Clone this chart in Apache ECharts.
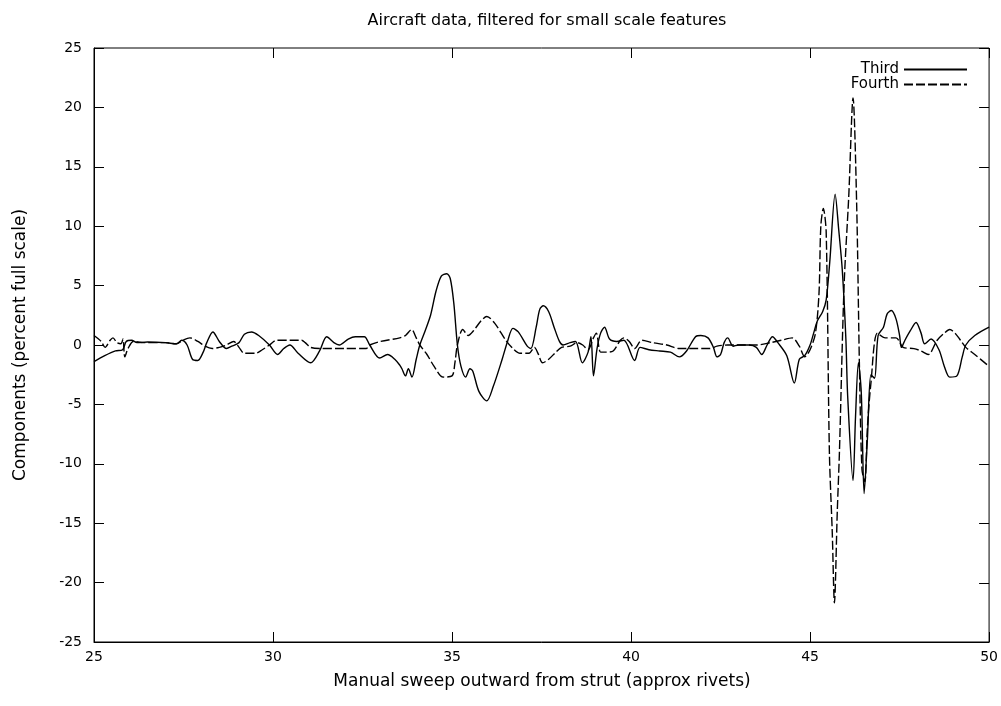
<!DOCTYPE html>
<html>
<head>
<meta charset="utf-8">
<script src="https://cdn.jsdelivr.net/npm/echarts@6/dist/echarts.min.js"></script>
<style>
  html, body { margin: 0; padding: 0; background: #fff; }
  #chart { width: 1001px; height: 706px; }
</style>
</head>
<body>
<div id="chart"></div>
<script>
// 曲线数据 [x, y]
var thirdData = [
  [25.0, -1.4], [25.3, -0.9], [25.6, -0.5], [25.8, -0.4], [25.9, 0.3], [26.05, 0.4],
  [26.2, 0.2], [26.5, 0.25], [27.0, 0.2], [27.3, 0.1], [27.45, 0.4], [27.6, 0.0],
  [27.75, -1.2], [27.9, -1.3], [28.05, -0.6], [28.15, 0.2], [28.32, 1.1], [28.5, 0.3],
  [28.7, -0.3], [28.85, -0.1], [29.05, 0.2], [29.2, 0.9], [29.4, 1.1], [29.6, 0.8],
  [29.9, 0.0], [30.13, -0.8], [30.3, -0.3], [30.47, 0.0], [30.7, -0.7], [31.05, -1.5],
  [31.3, -0.5], [31.5, 0.7], [31.7, 0.2], [31.85, 0.0], [32.1, 0.5], [32.3, 0.7],
  [32.55, 0.7], [32.7, 0.0], [32.98, -1.1], [33.2, -0.8], [33.4, -1.2], [33.54, -1.7],
  [33.6, -2.0], [33.7, -2.6], [33.78, -2.0], [33.88, -2.7], [34.0, -1.2], [34.1, 0.0],
  [34.25, 1.2], [34.4, 2.5], [34.55, 4.5], [34.7, 5.8], [34.85, 6.0], [34.95, 5.6],
  [35.05, 3.5], [35.15, 0.0], [35.25, -1.8], [35.38, -2.7], [35.5, -2.0], [35.58, -2.2],
  [35.75, -3.9], [35.97, -4.7], [36.15, -3.5], [36.4, -1.2], [36.55, 0.3], [36.7, 1.4],
  [36.85, 1.1], [37.1, -0.1], [37.2, -0.3], [37.35, 1.5], [37.45, 3.0], [37.55, 3.3],
  [37.7, 2.8], [37.85, 1.5], [38.0, 0.3], [38.1, 0.0], [38.3, 0.2], [38.45, 0.3],
  [38.64, -1.5], [38.8, -0.6], [38.88, 0.7], [38.95, -2.6], [39.05, -0.3], [39.15, 1.0],
  [39.26, 1.5], [39.4, 0.5], [39.6, 0.3], [39.8, 0.4], [40.1, -1.3], [40.25, -0.2],
  [40.5, -0.4], [40.8, -0.5], [41.1, -0.6], [41.35, -1.0], [41.55, -0.5], [41.8, 0.7],
  [41.95, 0.8], [42.15, 0.6], [42.3, -0.2], [42.4, -1.0], [42.5, -0.8], [42.6, 0.2],
  [42.7, 0.6], [42.85, -0.1], [43.0, 0.0], [43.3, 0.0], [43.5, -0.2], [43.65, -0.8],
  [43.8, 0.0], [43.95, 0.7], [44.1, 0.2], [44.35, -0.9], [44.56, -3.2], [44.7, -1.2],
  [44.85, -0.9], [45.0, 0.0], [45.1, 1.0], [45.2, 2.0], [45.35, 2.8], [45.45, 3.8],
  [45.55, 7.0], [45.7, 12.7], [45.8, 9.7], [45.9, 6.3], [46.0, 0.5], [46.05, -4.3],
  [46.2, -11.4], [46.27, -6.0], [46.35, -1.5], [46.43, -4.0], [46.51, -12.5], [46.6, -8.0],
  [46.7, -2.5], [46.8, -2.8], [46.9, 0.8], [47.05, 1.5], [47.15, 2.6], [47.27, 2.9],
  [47.4, 2.2], [47.5, 0.8], [47.55, -0.2], [47.65, 0.4], [47.8, 1.2], [47.96, 1.9],
  [48.1, 1.0], [48.2, 0.1], [48.38, 0.5], [48.6, -0.4], [48.75, -1.8], [48.9, -2.7],
  [49.1, -2.6], [49.25, -1.0], [49.35, 0.0], [49.6, 0.8], [50.0, 1.5]
];

var fourthData = [
  [25.0, 0.8], [25.2, 0.3], [25.31, -0.2], [25.45, 0.4], [25.53, 0.6], [25.64, 0.2],
  [25.75, 0.1], [25.81, 0.5], [25.86, -1.0], [25.95, -0.3], [26.1, 0.3], [26.4, 0.2],
  [27.0, 0.2], [27.3, 0.1], [27.48, 0.4], [27.68, 0.6], [27.9, 0.3], [28.1, -0.1],
  [28.3, -0.3], [28.5, -0.2], [28.7, 0.0], [28.9, 0.3], [29.05, -0.2], [29.2, -0.7],
  [29.5, -0.7], [29.7, -0.4], [29.9, 0.0], [30.1, 0.4], [30.5, 0.4], [30.8, 0.4],
  [30.9, 0.2], [31.05, -0.2], [31.3, -0.3], [32.0, -0.3], [32.6, -0.3], [32.7, 0.0],
  [33.0, 0.3], [33.54, 0.6], [33.7, 0.8], [33.87, 1.3], [34.0, 0.6], [34.1, 0.0],
  [34.3, -0.8], [34.5, -1.8], [34.75, -2.7], [35.0, -2.6], [35.08, -1.5], [35.15, 0.0],
  [35.3, 1.3], [35.45, 0.8], [35.6, 1.2], [35.8, 2.0], [35.97, 2.4], [36.2, 1.8],
  [36.5, 0.4], [36.7, -0.3], [36.9, -0.7], [37.15, -0.7], [37.3, -0.2], [37.4, -0.7],
  [37.53, -1.5], [37.7, -1.2], [37.9, -0.6], [38.06, -0.2], [38.3, -0.1], [38.5, 0.2],
  [38.65, 0.0], [38.8, -0.4], [38.95, 0.6], [39.03, 1.0], [39.15, -0.6], [39.3, -0.6],
  [39.5, -0.5], [39.7, 0.4], [39.8, 0.6], [39.95, 0.3], [40.1, -0.3], [40.3, 0.4],
  [40.6, 0.2], [41.0, 0.0], [41.35, -0.3], [41.6, -0.3], [41.8, -0.3], [42.2, -0.3],
  [42.4, -0.1], [42.7, 0.0], [43.0, 0.0], [43.5, 0.0], [43.9, 0.2], [44.2, 0.4],
  [44.5, 0.6], [44.7, -0.1], [44.85, -1.0], [45.0, -0.4], [45.15, 1.0], [45.25, 4.4],
  [45.3, 10.0], [45.37, 11.5], [45.45, 9.5], [45.54, -9.1], [45.62, -15.8], [45.68, -21.7],
  [45.76, -14.0], [45.82, -9.0], [45.95, 5.0], [46.08, 12.5], [46.2, 20.8], [46.3, 12.0],
  [46.38, -2.0], [46.45, -10.5], [46.53, -11.5], [46.6, -7.0], [46.7, -3.2], [46.88, 1.0],
  [47.1, 0.6], [47.4, 0.6], [47.6, -0.2], [47.9, -0.3], [48.1, -0.5], [48.3, -0.8],
  [48.55, 0.4], [48.75, 1.0], [48.9, 1.3], [49.05, 1.0], [49.2, 0.4], [49.35, -0.2],
  [49.6, -0.8], [50.0, -1.8]
];

var seriesNames = ['Third', 'Fourth'];
var xRange = [25, 50, 5];
var yRange = [-25, 25, 5];
var xTitle = 'Manual sweep outward from strut (approx rivets)';
var yTitle = 'Components (percent full scale)';

var font = 'DejaVu Sans';

var myChart = echarts.init(document.getElementById('chart'));

function makeAxis(range, pos) {
  return {
    type: 'value',
    position: pos,
    min: range[0],
    max: range[1],
    interval: range[2],
    axisLine: { show: true, onZero: false, lineStyle: { color: '#000', width: 1 } },
    axisTick: { show: true, inside: true, length: 10, lineStyle: { color: '#000', width: 1 } },
    axisLabel: { show: true, margin: pos === 'left' ? 12 : 8, fontFamily: font, fontSize: 14, color: '#000' },
    splitLine: { show: false }
  };
}

var option = {
  animation: false,
  backgroundColor: '#fff',
  title: {
    text: 'Aircraft data, filtered for small scale features',
    left: 542,
    textAlign: 'center',
    top: 8,
    textStyle: { fontFamily: font, fontSize: 16, fontWeight: 'normal', color: '#000' }
  },
  legend: {
    orient: 'vertical',
    right: 28,
    top: 57,
    align: 'right',
    itemWidth: 63,
    itemHeight: 14,
    itemGap: 0,
    data: seriesNames,
    itemStyle: { opacity: 0 },
    textStyle: { fontFamily: font, fontSize: 15, color: '#000' }
  },
  grid: {
    left: 94,
    right: 11,
    top: 48,
    bottom: 64,
    show: true,
    borderColor: '#000',
    borderWidth: 1
  },
  xAxis: makeAxis(xRange, 'bottom'),
  yAxis: makeAxis(yRange, 'left'),
  series: [
    {
      name: seriesNames[0],
      type: 'line',
      data: thirdData,
      symbol: 'none',
      smooth: 0.3,
      lineStyle: { color: '#000', width: 1.4, type: 'solid' },
      itemStyle: { color: '#000' }
    },
    {
      name: seriesNames[1],
      type: 'line',
      data: fourthData,
      symbol: 'none',
      smooth: 0.3,
      lineStyle: { color: '#000', width: 1.4, type: [9, 3] },
      itemStyle: { color: '#000' }
    }
  ]
};

myChart.setOption(option);

// 轴标题 + 上边、右边的镜像刻度（位置由坐标轴换算）
var elements = [
  {
    type: 'text',
    x: 542,
    y: 682,
    style: { text: xTitle, font: '17px "DejaVu Sans"', fill: '#000', align: 'center', verticalAlign: 'middle' }
  },
  {
    type: 'text',
    x: 21,
    y: 345,
    rotation: Math.PI / 2,
    style: { text: yTitle, font: '17px "DejaVu Sans"', fill: '#000', align: 'center', verticalAlign: 'middle' }
  }
];

var topPx = myChart.convertToPixel({ yAxisIndex: 0 }, yRange[1]);
var rightPx = myChart.convertToPixel({ xAxisIndex: 0 }, xRange[1]);
var v, p;
for (v = xRange[0]; v <= xRange[1]; v += xRange[2]) {
  p = Math.round(myChart.convertToPixel({ xAxisIndex: 0 }, v)) + 0.5;
  elements.push({
    type: 'line',
    shape: { x1: p, y1: topPx, x2: p, y2: topPx + 10 },
    style: { stroke: '#000', lineWidth: 1 }
  });
}
for (v = yRange[0]; v <= yRange[1]; v += yRange[2]) {
  p = Math.round(myChart.convertToPixel({ yAxisIndex: 0 }, v)) + 0.5;
  elements.push({
    type: 'line',
    shape: { x1: rightPx, y1: p, x2: rightPx - 10, y2: p },
    style: { stroke: '#000', lineWidth: 1 }
  });
}

myChart.setOption({ graphic: elements });
</script>
</body>
</html>
